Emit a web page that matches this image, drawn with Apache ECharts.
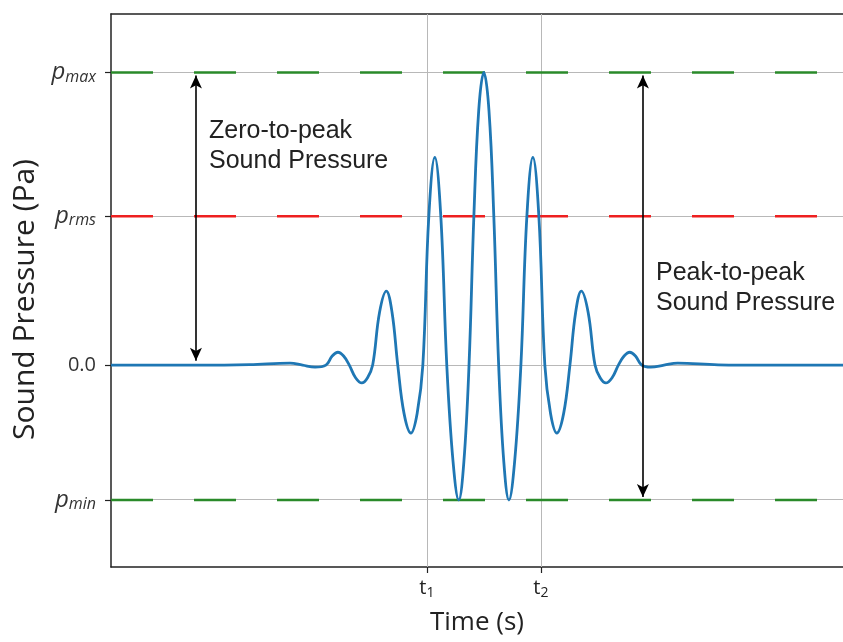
<!DOCTYPE html>
<html>
<head>
<meta charset="utf-8">
<script src="https://cdn.jsdelivr.net/npm/echarts@6/dist/echarts.min.js"></script>
<style>
  html, body { margin: 0; padding: 0; background: #fff; }
  #chart { width: 843px; height: 642px; }
</style>
</head>
<body>
<div id="chart"></div>
<script>
// Gaussian-windowed tone burst: time (s) and sound pressure (Pa)
const timeS = [
  -6.54, -4.98, -4.11, -3.40, -3.18, -2.96, -2.77, -2.66, -2.56, -2.46,
  -2.36, -2.25, -2.14, -2.04, -1.95, -1.83, -1.71, -1.61, -1.51, -1.40,
  -1.28, -1.17, -1.07, -0.965, -0.86, -0.755, -0.65, -0.54, -0.44, -0.35,
  -0.26, -0.175, -0.09, 0,
  0.09, 0.175, 0.26, 0.35, 0.44, 0.54, 0.65, 0.755, 0.86, 0.965,
  1.07, 1.17, 1.28, 1.40, 1.51, 1.61, 1.71, 1.83, 1.95, 2.04,
  2.14, 2.25, 2.36, 2.46, 2.56, 2.66, 2.77, 2.93, 3.16, 3.40,
  4.11, 4.98, 6.3
];
const pressurePa = [
  0, 0, 0.002, 0.007, 0, -0.007, 0, 0.031, 0.044, 0.031,
  0, -0.043, -0.061, -0.043, 0, 0.18, 0.253, 0.18, 0, -0.165,
  -0.232, -0.165, 0, 0.509, 0.71, 0.509, 0, -0.33, -0.461, -0.33,
  0, 0.509, 0.87, 1.0,
  0.87, 0.509, 0, -0.33, -0.461, -0.33, 0, 0.509, 0.71, 0.509,
  0, -0.165, -0.232, -0.165, 0, 0.18, 0.253, 0.18, 0, -0.043,
  -0.061, -0.043, 0, 0.031, 0.044, 0.031, 0, -0.007, 0, 0.007,
  0.001, 0, 0
];

// Reference levels
const pMax = 1.0;
const pRms = 0.509;
const pMin = -0.461;

// Axis ranges and ticks
const timeRange = [-6.54, 6.3];
const pressureRange = [-0.69, 1.2];
const yTickValues = [pMin, 0, pRms, pMax];
const yTickLabels = ['{p|p}{s|min}', '0.0', '{p|p}{s|rms}', '{p|p}{s|max}'];
const xTickValues = [-1, 1];
const xTickLabels = ['{t|t}{n|1}', '{t|t}{n|2}'];

// Arrow positions (time) for the two amplitude definitions
const zeroToPeakTime = -5.05;
const peakToPeakTime = 2.79;

const burst = timeS.map((t, i) => [t, pressurePa[i]]);
const levelLine = (v) => [[timeRange[0], v], [timeRange[1], v]];

const chart = echarts.init(document.getElementById('chart'), null, { renderer: 'canvas' });

const frame = '#222';
const gridGray = '#b8b8b8';

chart.setOption({
  animation: false,
  backgroundColor: '#ffffff',
  grid: { left: 111, top: 14, right: 0, bottom: 75 },
  xAxis: [
    {
      type: 'value',
      min: timeRange[0], max: timeRange[1],
      name: 'Time (s)',
      nameLocation: 'middle',
      nameGap: 43,
      nameTextStyle: { fontFamily: 'Open Sans', fontSize: 26, color: '#222' },
      axisLine: { show: true, onZero: false, lineStyle: { color: frame, width: 1.5 } },
      axisTick: { show: true, customValues: xTickValues, length: 6, lineStyle: { color: frame, width: 1.2 } },
      splitLine: { show: false },
      axisLabel: {
        customValues: xTickValues,
        margin: 10,
        formatter: (v) => xTickLabels[xTickValues.indexOf(v)],
        rich: {
          t: { fontFamily: 'Open Sans', fontSize: 20, color: '#222' },
          n: { fontFamily: 'Open Sans', fontSize: 14, color: '#222', padding: [9, 0, 0, 0] }
        }
      }
    },
    {
      // top frame line
      type: 'value', position: 'top',
      min: timeRange[0], max: timeRange[1],
      axisLine: { show: true, onZero: false, lineStyle: { color: frame, width: 1.5 } },
      axisTick: { show: false }, axisLabel: { show: false }, splitLine: { show: false }
    }
  ],
  yAxis: {
    type: 'value',
    min: pressureRange[0], max: pressureRange[1],
    name: 'Sound Pressure (Pa)',
    nameLocation: 'middle',
    nameGap: 71,
    nameTextStyle: { fontFamily: 'Open Sans', fontSize: 30, color: '#222', padding: [0, 18, 0, 0] },
    axisLine: { show: true, onZero: false, lineStyle: { color: frame, width: 1.5 } },
    axisTick: { show: true, customValues: yTickValues, length: 6, lineStyle: { color: frame, width: 1.2 } },
    splitLine: { show: false },
    axisLabel: {
      customValues: yTickValues,
      margin: 15,
      formatter: (v) => yTickLabels[yTickValues.indexOf(v)],
      fontFamily: 'Open Sans', fontSize: 20, color: '#333',
      rich: {
        p: { fontFamily: 'Open Sans', fontStyle: 'italic', fontSize: 24, color: '#333' },
        s: { fontFamily: 'Open Sans', fontStyle: 'italic', fontSize: 16, color: '#333', padding: [9, 0, 0, 0] }
      }
    }
  },
  series: [
    {
      // light grid at the tick positions
      type: 'line', data: [], silent: true, z: 1,
      markLine: {
        silent: true, symbol: 'none', animation: false, z: 1,
        label: { show: false },
        lineStyle: { color: gridGray, width: 1, type: 'solid' },
        emphasis: { disabled: true },
        data: yTickValues.map((v) => ({ yAxis: v })).concat(xTickValues.map((v) => ({ xAxis: v })))
      }
    },
    {
      name: 'pmax', type: 'line', data: levelLine(pMax), symbol: 'none', z: 2, silent: true,
      lineStyle: { color: '#2a8a2a', width: 2.5, type: [42, 41] }
    },
    {
      name: 'pmin', type: 'line', data: levelLine(pMin), symbol: 'none', z: 2, silent: true,
      lineStyle: { color: '#2a8a2a', width: 2.5, type: [42, 41] }
    },
    {
      name: 'prms', type: 'line', data: levelLine(pRms), symbol: 'none', z: 2, silent: true,
      lineStyle: { color: '#ee2020', width: 2.5, type: [42, 41] }
    },
    {
      name: 'burst', type: 'line', data: burst, symbol: 'none', z: 3,
      smooth: 0.4,
      lineStyle: { color: '#1f77b4', width: 2.8 }
    },
    {
      // amplitude arrows
      type: 'line', data: [], z: 4, silent: true,
      markLine: {
        silent: true, animation: false, z: 6,
        symbol: ['arrow', 'arrow'], symbolSize: [9, 13],
        label: { show: false },
        lineStyle: { color: '#000', width: 1.6, type: 'solid' },
        emphasis: { disabled: true },
        data: [
          [{ coord: [zeroToPeakTime, 0.015] }, { coord: [zeroToPeakTime, 0.99] }],
          [{ coord: [peakToPeakTime, pMin + 0.01] }, { coord: [peakToPeakTime, 0.99] }]
        ]
      }
    }
  ],
  graphic: [
    {
      type: 'text', left: 209, top: 116, z: 10,
      style: { text: 'Zero-to-peak\nSound Pressure', fontFamily: 'Liberation Sans', fontSize: 25, lineHeight: 30, fill: '#222' }
    },
    {
      type: 'text', left: 656, top: 258, z: 10,
      style: { text: 'Peak-to-peak\nSound Pressure', fontFamily: 'Liberation Sans', fontSize: 25, lineHeight: 30, fill: '#222' }
    }
  ]
});
</script>
</body>
</html>
